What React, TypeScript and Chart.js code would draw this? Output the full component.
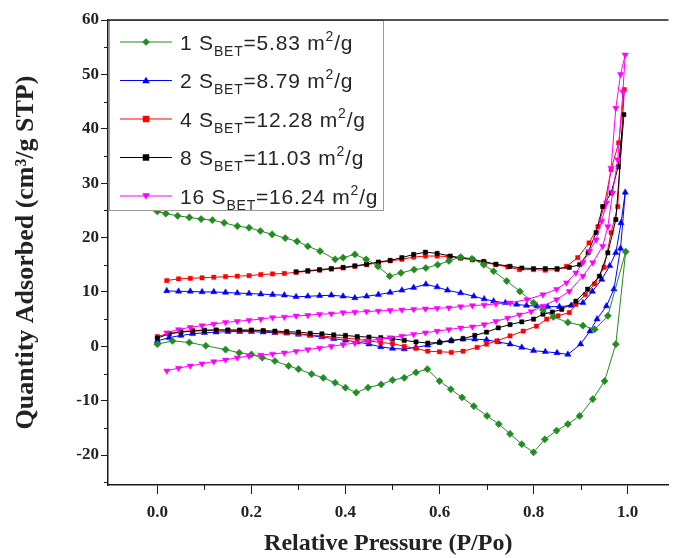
import React, { useEffect, useRef } from 'react';
import { Chart, registerables } from 'chart.js';

Chart.register(...registerables);

// ---- legend text ----
const seriesNames = ['1', '2', '4', '8', '16'];
const sbetValues = ['5.83', '8.79', '12.28', '11.03', '16.24'];
const seriesColors = ['#228B22', '#0000FF', '#FF0000', '#000000', '#FF00FF'];
const seriesMarkers = ['diamond', 'triangle', 'square', 'square', 'downTriangle'];

// ---- axis ticks ----
const xMajorStep = 0.2;
const yMajorStep = 10;
const xMinorTicks = [0.1, 0.3, 0.5, 0.7, 0.9];
const yMinorTicks = [-25, -15, -5, 5, 15, 25, 35, 45, 55];

// ---- series 1 (green) ----
const s1AdsX = [0.0, 0.032, 0.068, 0.103, 0.145, 0.174, 0.2, 0.223, 0.25, 0.279, 0.3, 0.328, 0.353, 0.378, 0.4, 0.423, 0.448, 0.476, 0.5, 0.525, 0.55, 0.574, 0.6, 0.624, 0.648, 0.673, 0.701, 0.726, 0.75, 0.775, 0.8, 0.824, 0.849, 0.873, 0.898, 0.926, 0.951, 0.975, 0.996];
const s1AdsY = [0.4, 1.0, 0.7, 0.1, -0.6, -1.2, -1.5, -2.1, -2.7, -3.6, -4.2, -5.1, -5.8, -6.7, -7.6, -8.5, -7.6, -7.0, -6.2, -5.8, -4.8, -4.2, -6.4, -7.9, -9.4, -11.0, -12.8, -14.3, -16.1, -18.0, -19.5, -17.1, -15.5, -14.3, -12.8, -9.7, -6.4, 0.4, 17.4];
const s1DesX = [0.958, 0.93, 0.905, 0.873, 0.842, 0.82, 0.8, 0.771, 0.743, 0.715, 0.694, 0.669, 0.645, 0.62, 0.596, 0.571, 0.546, 0.518, 0.494, 0.469, 0.444, 0.42, 0.395, 0.378, 0.346, 0.32, 0.297, 0.272, 0.244, 0.219, 0.195, 0.17, 0.142, 0.117, 0.093, 0.068, 0.043, 0.018, 0.0];
const s1DesY = [5.6, 3.1, 3.8, 4.4, 5.4, 6.7, 8.0, 10.1, 12.0, 13.8, 15.0, 16.1, 16.4, 15.7, 15.0, 14.4, 14.1, 13.5, 12.9, 14.7, 16.0, 16.9, 16.3, 16.0, 17.5, 18.4, 19.3, 19.9, 20.6, 21.2, 21.8, 22.1, 22.7, 23.2, 23.4, 23.7, 24.0, 24.4, 24.8];

// ---- series 2 (blue) ----
const s2AdsX = [0.0, 0.025, 0.05, 0.075, 0.1, 0.125, 0.15, 0.175, 0.2, 0.225, 0.25, 0.275, 0.3, 0.325, 0.35, 0.375, 0.4, 0.425, 0.45, 0.475, 0.5, 0.525, 0.55, 0.575, 0.6, 0.625, 0.65, 0.675, 0.7, 0.725, 0.75, 0.775, 0.8, 0.825, 0.85, 0.873, 0.9, 0.92, 0.935, 0.955, 0.971, 0.985, 0.995];
const s2AdsY = [1.0, 1.6, 2.0, 2.3, 2.5, 2.6, 2.7, 2.7, 2.7, 2.6, 2.5, 2.4, 2.2, 2.0, 1.7, 1.4, 1.1, 0.8, 0.4, -0.1, -0.4, -0.5, -0.2, 0.2, 0.8, 1.1, 1.3, 1.3, 1.2, 0.8, 0.4, -0.2, -0.8, -1.0, -1.2, -1.5, 0.4, 2.8, 5.0, 7.4, 10.5, 18.0, 28.3];
const s2DesX = [0.986, 0.975, 0.962, 0.945, 0.925, 0.905, 0.88, 0.855, 0.83, 0.807, 0.785, 0.764, 0.74, 0.715, 0.695, 0.673, 0.645, 0.617, 0.595, 0.571, 0.545, 0.52, 0.495, 0.47, 0.445, 0.42, 0.395, 0.37, 0.345, 0.32, 0.295, 0.27, 0.245, 0.22, 0.195, 0.17, 0.145, 0.12, 0.095, 0.07, 0.045, 0.02];
const s2DesY = [22.7, 17.2, 14.8, 12.3, 10.1, 8.0, 7.5, 7.3, 7.3, 7.4, 7.5, 7.7, 8.0, 8.3, 8.7, 9.2, 9.8, 10.3, 10.9, 11.4, 10.8, 10.3, 9.9, 9.5, 9.2, 8.9, 9.2, 9.4, 9.3, 9.2, 9.1, 9.4, 9.5, 9.6, 9.7, 9.8, 9.9, 10.0, 10.0, 10.1, 10.1, 10.2];

// ---- series 4 (red) ----
const s4AdsX = [0.0, 0.025, 0.05, 0.075, 0.1, 0.125, 0.15, 0.175, 0.2, 0.225, 0.25, 0.275, 0.3, 0.325, 0.35, 0.375, 0.4, 0.425, 0.45, 0.475, 0.5, 0.525, 0.55, 0.575, 0.6, 0.625, 0.65, 0.68, 0.7, 0.722, 0.75, 0.778, 0.806, 0.828, 0.852, 0.876, 0.89, 0.91, 0.93, 0.95, 0.965, 0.979, 0.993];
const s4AdsY = [1.8, 2.4, 2.7, 2.9, 3.0, 3.0, 3.0, 2.9, 2.9, 2.8, 2.6, 2.5, 2.3, 2.1, 1.9, 1.7, 1.5, 1.3, 1.0, 0.7, 0.5, 0.0, -0.4, -0.9, -1.0, -1.1, -0.9, -0.2, 0.4, 1.0, 1.9, 2.8, 3.7, 5.0, 5.6, 6.2, 7.7, 9.5, 11.5, 14.5, 20.9, 25.7, 47.2];
const s4DesX = [0.981, 0.965, 0.95, 0.937, 0.918, 0.894, 0.87, 0.85, 0.825, 0.8, 0.77, 0.745, 0.72, 0.695, 0.67, 0.645, 0.62, 0.595, 0.57, 0.545, 0.52, 0.495, 0.47, 0.445, 0.42, 0.395, 0.37, 0.345, 0.32, 0.295, 0.27, 0.245, 0.22, 0.195, 0.17, 0.145, 0.12, 0.095, 0.07, 0.045, 0.02];
const s4DesY = [37.4, 32.5, 25.7, 22.0, 19.0, 16.3, 14.7, 14.1, 14.0, 14.1, 14.1, 14.6, 15.0, 15.4, 15.9, 16.2, 16.5, 16.6, 16.6, 16.4, 16.0, 15.7, 15.4, 15.0, 14.7, 14.4, 14.2, 14.0, 13.8, 13.6, 13.4, 13.3, 13.2, 13.0, 12.9, 12.8, 12.7, 12.6, 12.5, 12.4, 12.1];

// ---- series 8 (black) ----
const s8AdsX = [0.0, 0.025, 0.05, 0.075, 0.1, 0.125, 0.15, 0.175, 0.2, 0.225, 0.25, 0.275, 0.3, 0.325, 0.35, 0.375, 0.4, 0.425, 0.45, 0.475, 0.5, 0.525, 0.55, 0.575, 0.6, 0.625, 0.65, 0.675, 0.7, 0.725, 0.75, 0.775, 0.8, 0.82, 0.84, 0.86, 0.89, 0.915, 0.94, 0.958, 0.975, 0.992];
const s8AdsY = [1.5, 2.3, 2.6, 2.8, 2.9, 3.0, 3.0, 3.0, 3.0, 2.9, 2.8, 2.7, 2.6, 2.4, 2.3, 2.1, 2.0, 1.8, 1.7, 1.6, 1.4, 1.1, 0.8, 0.6, 0.7, 1.0, 1.4, 2.0, 2.6, 3.4, 4.0, 4.5, 5.0, 5.9, 6.3, 6.8, 8.3, 10.5, 12.9, 17.2, 23.3, 42.6];
const s8DesX = [0.98, 0.965, 0.947, 0.933, 0.916, 0.898, 0.876, 0.85, 0.825, 0.8, 0.775, 0.75, 0.72, 0.694, 0.67, 0.645, 0.623, 0.595, 0.57, 0.545, 0.52, 0.495, 0.47, 0.445, 0.42, 0.395, 0.37, 0.345, 0.32, 0.295];
const s8DesY = [33.0, 28.2, 25.7, 20.9, 17.2, 15.0, 14.5, 14.3, 14.3, 14.3, 14.4, 14.7, 15.1, 15.6, 16.0, 16.3, 16.6, 17.1, 17.3, 16.9, 16.3, 15.8, 15.5, 15.1, 14.8, 14.5, 14.3, 14.1, 13.9, 13.7];

// ---- series 16 (magenta) ----
const s16AdsX = [0.02, 0.045, 0.07, 0.095, 0.12, 0.145, 0.17, 0.195, 0.22, 0.245, 0.27, 0.295, 0.32, 0.345, 0.37, 0.395, 0.42, 0.445, 0.47, 0.495, 0.52, 0.545, 0.57, 0.595, 0.62, 0.645, 0.67, 0.695, 0.72, 0.745, 0.77, 0.795, 0.82, 0.849, 0.876, 0.905, 0.926, 0.947, 0.958, 0.968, 0.979, 0.99, 0.995];
const s16AdsY = [-4.5, -4.0, -3.6, -3.2, -2.8, -2.5, -2.1, -1.8, -1.6, -1.4, -1.2, -0.9, -0.6, -0.3, 0.0, 0.3, 0.6, 1.0, 1.3, 1.6, 1.9, 2.2, 2.5, 2.8, 3.1, 3.4, 3.6, 4.0, 4.6, 5.2, 5.8, 6.4, 7.4, 8.6, 10.1, 12.9, 15.4, 18.4, 22.0, 28.2, 34.3, 46.8, 53.6];
const s16DesX = [0.985, 0.975, 0.965, 0.955, 0.945, 0.933, 0.919, 0.905, 0.89, 0.87, 0.849, 0.82, 0.786, 0.75, 0.72, 0.695, 0.67, 0.645, 0.62, 0.595, 0.57, 0.545, 0.52, 0.495, 0.47, 0.445, 0.42, 0.395, 0.37, 0.345, 0.32, 0.295, 0.27, 0.245, 0.22, 0.195, 0.17, 0.145, 0.12, 0.095, 0.07, 0.045, 0.02];
const s16DesY = [50.0, 43.8, 32.8, 26.4, 23.0, 19.6, 17.5, 15.4, 13.5, 11.7, 10.5, 9.5, 8.6, 8.0, 7.8, 7.6, 7.5, 7.3, 7.1, 7.0, 6.9, 6.8, 6.7, 6.6, 6.5, 6.4, 6.3, 6.2, 6.0, 5.9, 5.7, 5.6, 5.4, 5.3, 5.0, 4.8, 4.6, 4.4, 4.1, 3.8, 3.5, 3.1, 2.5];

const toPoints = (xs: number[], ys: number[]) => xs.map((x, i) => ({ x, y: ys[i] }));

const seriesData = [
  toPoints([...s1AdsX, ...s1DesX], [...s1AdsY, ...s1DesY]),
  toPoints([...s2AdsX, ...s2DesX], [...s2AdsY, ...s2DesY]),
  toPoints([...s4AdsX, ...s4DesX], [...s4AdsY, ...s4DesY]),
  toPoints([...s8AdsX, ...s8DesX], [...s8AdsY, ...s8DesY]),
  toPoints([...s16AdsX, ...s16DesX], [...s16AdsY, ...s16DesY]),
];

const chartStyle = {
  pointStyles: ['rectRot', 'triangle', 'rect', 'rect', 'triangle'],
  pointRotations: [0, 0, 0, 0, 180],
  pointRadii: [3.6, 3.6, 3.0, 3.0, 3.6],
  orders: [1, 4, 3, 2, 0],
};

function drawMarker(ctx: CanvasRenderingContext2D, kind: string, x: number, y: number, r: number, color: string) {
  ctx.fillStyle = color;
  ctx.beginPath();
  if (kind === 'diamond') {
    ctx.moveTo(x, y - r); ctx.lineTo(x + r, y); ctx.lineTo(x, y + r); ctx.lineTo(x - r, y);
  } else if (kind === 'triangle') {
    ctx.moveTo(x, y - r); ctx.lineTo(x + r, y + r * 0.7); ctx.lineTo(x - r, y + r * 0.7);
  } else if (kind === 'downTriangle') {
    ctx.moveTo(x, y + r); ctx.lineTo(x + r, y - r * 0.7); ctx.lineTo(x - r, y - r * 0.7);
  } else {
    ctx.rect(x - r * 0.85, y - r * 0.85, r * 1.7, r * 1.7);
  }
  ctx.closePath();
  ctx.fill();
}

const legendPlugin = {
  id: 'richLegend',
  afterDatasetsDraw(chart: any) {
    const ctx: any = chart.ctx;
    const { left, top } = chart.chartArea;
    const boxL = left + 1;
    const boxT = top;
    const boxW = 274;
    const boxH = 190;
    ctx.save();
    ctx.fillStyle = '#ffffff';
    ctx.fillRect(boxL, boxT, boxW, boxH);
    ctx.strokeStyle = '#9a9a9a';
    ctx.lineWidth = 1;
    ctx.strokeRect(boxL + 0.5, boxT + 0.5, boxW, boxH);
    const mainFont = '21px "Liberation Sans", Arial, sans-serif';
    const smallFont = '14px "Liberation Sans", Arial, sans-serif';
    for (let i = 0; i < seriesNames.length; i++) {
      const cy = boxT + 22 + i * 38.5;
      const color = seriesColors[i];
      ctx.letterSpacing = '0px';
      ctx.strokeStyle = color;
      ctx.lineWidth = 1.2;
      ctx.beginPath();
      ctx.moveTo(boxL + 11, cy);
      ctx.lineTo(boxL + 63, cy);
      ctx.stroke();
      drawMarker(ctx, seriesMarkers[i], boxL + 37, cy, 3.8, color);
      const parts = [
        { t: seriesNames[i] + ' S', f: mainFont, dy: 0 },
        { t: 'BET', f: smallFont, dy: 6 },
        { t: '=' + sbetValues[i] + ' m', f: mainFont, dy: 0 },
        { t: '2', f: smallFont, dy: -9 },
        { t: '/g', f: mainFont, dy: 0 },
      ];
      let x = boxL + 71;
      const base = cy + 7.5;
      ctx.fillStyle = '#262626';
      ctx.textBaseline = 'alphabetic';
      ctx.textAlign = 'left';
      ctx.letterSpacing = '0.8px';
      for (const p of parts) {
        ctx.font = p.f;
        ctx.fillText(p.t, x, base + p.dy);
        x += ctx.measureText(p.t).width;
      }
      ctx.letterSpacing = '0px';
    }
    ctx.restore();
  },
};

const axisExtrasPlugin = {
  id: 'axisExtras',
  afterDraw(chart: any) {
    const ctx: CanvasRenderingContext2D = chart.ctx;
    const { left, right, top, bottom } = chart.chartArea;
    const xs = chart.scales.x;
    const ys = chart.scales.y;
    ctx.save();
    ctx.strokeStyle = '#1a1a1a';
    ctx.lineWidth = 1.5;
    ctx.beginPath();
    ctx.moveTo(left, top);
    ctx.lineTo(right, top);
    ctx.stroke();
    ctx.lineWidth = 1;
    ctx.beginPath();
    for (const v of yMinorTicks) {
      const py = Math.round(ys.getPixelForValue(v)) + 0.5;
      ctx.moveTo(left, py);
      ctx.lineTo(left - 4, py);
    }
    for (const v of xMinorTicks) {
      const px = Math.round(xs.getPixelForValue(v)) + 0.5;
      ctx.moveTo(px, bottom);
      ctx.lineTo(px, bottom + 5);
    }
    ctx.stroke();
    ctx.restore();
  },
};

export default function App() {
  const ref = useRef<HTMLCanvasElement>(null);
  useEffect(() => {
    if (!ref.current) return;
    const datasets = seriesData.map((data, i) => ({
      label: seriesNames[i],
      data,
      showLine: true,
      borderColor: seriesColors[i],
      backgroundColor: seriesColors[i],
      pointBackgroundColor: seriesColors[i],
      pointBorderColor: seriesColors[i],
      pointBorderWidth: 0.5,
      borderWidth: 1,
      pointStyle: chartStyle.pointStyles[i],
      rotation: chartStyle.pointRotations[i],
      pointRadius: chartStyle.pointRadii[i],
      order: chartStyle.orders[i],
      tension: 0,
    }));
    const serif = '"Liberation Serif", "Times New Roman", serif';
    const chart = new Chart(ref.current, {
      type: 'scatter',
      data: { datasets },
      plugins: [legendPlugin, axisExtrasPlugin],
      options: {
        animation: false,
        responsive: false,
        devicePixelRatio: 1,
        layout: { padding: { top: 20, left: 0, right: 0, bottom: 0 } },
        plugins: { legend: { display: false }, tooltip: { enabled: false } },
        scales: {
          x: {
            type: 'linear',
            position: 'bottom',
            min: -0.105,
            max: 1.087,
            afterFit: (scale: any) => { scale.height = 73; },
            border: { display: true, color: '#1a1a1a', width: 1.5 },
            grid: { display: true, drawOnChartArea: false, drawTicks: true, tickLength: 9, color: '#1a1a1a', lineWidth: 1 },
            ticks: {
              stepSize: xMajorStep,
              includeBounds: false,
              padding: 8,
              color: '#222',
              font: { family: serif, size: 17, weight: 'bold' },
              callback: (v: any) => Number(v).toFixed(1),
            },
            title: {
              display: true,
              text: 'Relative Pressure (P/Po)',
              color: '#222',
              font: { family: serif, size: 24, weight: 'bold' },
              padding: { top: 0, bottom: 0 },
            },
          },
          y: {
            type: 'linear',
            position: 'left',
            min: -25.5,
            max: 60,
            afterFit: (scale: any) => { scale.width = 108; },
            border: { display: true, color: '#1a1a1a', width: 1.5 },
            grid: { display: true, drawOnChartArea: false, drawTicks: true, tickLength: 7, color: '#1a1a1a', lineWidth: 1 },
            ticks: {
              stepSize: yMajorStep,
              includeBounds: false,
              padding: 2,
              color: '#222',
              font: { family: serif, size: 17, weight: 'bold' },
              callback: (v: any) => String(v),
            },
            title: {
              display: true,
              text: 'Quantity Adsorbed (cm³/g STP)',
              color: '#222',
              font: { family: serif, size: 26, weight: 'bold' },
              padding: { top: 11, bottom: 0 },
            },
          },
        },
      } as any,
    });
    return () => chart.destroy();
  }, []);
  return (
    <canvas
      ref={ref}
      width={673}
      height={558}
      style={{ position: 'absolute', left: 0, top: 0, width: '673px', height: '558px' }}
    />
  );
}
